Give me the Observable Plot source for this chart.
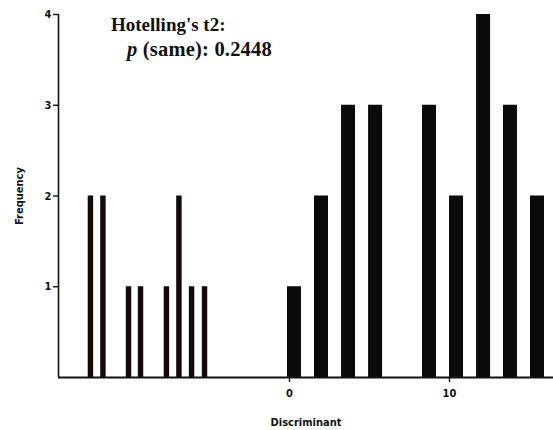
<!DOCTYPE html>
<html>
<head>
<meta charset="utf-8">
<script src="https://cdn.jsdelivr.net/npm/d3@7"></script>
<script src="https://cdn.jsdelivr.net/npm/@observablehq/plot@0.6"></script>
<style>
  html, body { margin: 0; padding: 0; background: #fff; }
  #wrap { position: relative; width: 553px; height: 430px; }
  #title { position: absolute; left: 111px; top: 12px; font-family: "Liberation Serif", "Times New Roman", serif; font-weight: bold; font-size: 19px; line-height: 25px; color: #111; }
  #title .l2 { padding-left: 16px; font-size: 20.5px; letter-spacing: 0.2px; }
  #title i { font-style: italic; }
</style>
</head>
<body>
<div id="wrap">
  <div id="chart"></div>
  <div id="title"><div>Hotelling's t2:</div><div class="l2"><i>p</i> (same): 0.2448</div></div>
</div>
<script>
// Group A (left, narrow bars): bin centres on the discriminant axis and counts
const groupACenters = [-12.41, -11.63, -10.03, -9.28, -7.66, -6.88, -6.09, -5.28];
const groupACounts  = [2, 2, 1, 1, 1, 2, 1, 1];
// Group B (right, wide bars)
const groupBCenters = [0.31, 2.0, 3.69, 5.38, 8.75, 10.44, 12.13, 13.81, 15.5];
const groupBCounts  = [1, 2, 3, 3, 3, 2, 4, 3, 2];

const xTicks = [0, 10];
const yTicks = [1, 2, 3, 4];
const xDomain = [-14.4375, 16.5];
const yDomain = [0, 4];

const widthA = 0.34, widthB = 0.875;
const dataA = groupACenters.map((c, i) => ({x1: c - widthA / 2, x2: c + widthA / 2, y: groupACounts[i]}));
const dataB = groupBCenters.map((c, i) => ({x1: c - widthB / 2, x2: c + widthB / 2, y: groupBCounts[i]}));

const font = '"Liberation Sans Narrow", "DejaVu Sans Condensed", "Liberation Sans", sans-serif';

const chart = Plot.plot({
  width: 553,
  height: 430,
  marginLeft: 58,
  marginRight: 0,
  marginTop: 14,
  marginBottom: 53,
  style: {fontFamily: font, fontWeight: "bold", fontSize: "11px", color: "#111", background: "#fff"},
  x: {domain: xDomain},
  y: {domain: yDomain},
  marks: [
    Plot.rectY(dataA, {x1: "x1", x2: "x2", y: "y", fill: "#140808"}),
    Plot.rectY(dataB, {x1: "x1", x2: "x2", y: "y", fill: "#0a0a0a"}),
    Plot.ruleY([0], {stroke: "#111", strokeWidth: 2}),
    Plot.ruleX([xDomain[0]], {y1: yDomain[0], y2: yDomain[1], stroke: "#111", strokeWidth: 1.6}),
    Plot.axisY({ticks: yTicks, tickFormat: "d", tickSize: 5, tickPadding: 2, stroke: "#111", strokeWidth: 1.4,
      label: "Frequency", labelAnchor: "center", labelOffset: 43, labelArrow: "none", fontSize: 11}),
    Plot.axisX({ticks: xTicks, tickFormat: "d", tickSize: 5, tickPadding: 7, stroke: "#111", strokeWidth: 1.4,
      label: "Discriminant", labelAnchor: "center", labelOffset: 48, labelArrow: "none", fontSize: 11})
  ]
});
document.getElementById("chart").appendChild(chart);
</script>
</body>
</html>
